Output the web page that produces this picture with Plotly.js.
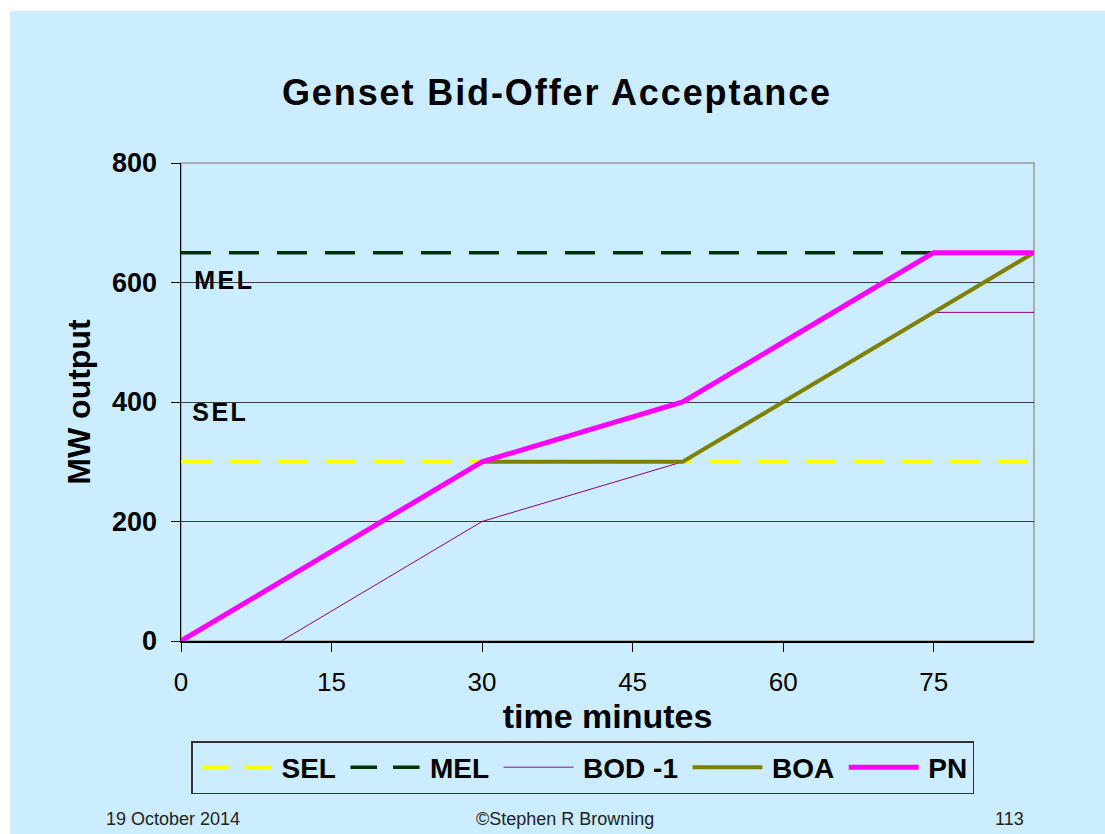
<!DOCTYPE html>
<html>
<head>
<meta charset="utf-8">
<script src="https://cdn.plot.ly/plotly-3.0.1.min.js"></script>
<style>
  html, body { margin: 0; padding: 0; background: #ffffff; }
  #bg { position: absolute; left: 10px; top: 11px; width: 1095px; height: 823px; background: #CCECFF; }
  #chart { position: absolute; left: 0; top: 0; width: 1105px; height: 834px; }
  #chart .gtitle { letter-spacing: 1.9px; }
  #chart .legend .legendlines path { transform-box: fill-box; transform-origin: center; transform: scaleX(0.885); }
  #chart .annotation-text.spaced { letter-spacing: 2.5px; }
</style>
</head>
<body>
<div id="bg"></div>
<div id="chart"></div>
<script>
// ---- data ----
const selX = [0, 85];
const selY = [300, 300];
const melX = [0, 85];
const melY = [650, 650];
const bodX = [10, 20, 30, 40, 50, 60, 70, 75, 85];
const bodY = [0, 100, 200, 250, 300, 400, 500, 550, 550];
const boaX = [30, 40, 50, 60, 70, 75, 85];
const boaY = [300, 300, 300, 400, 500, 550, 650];
const pnX = [0, 10, 20, 30, 40, 50, 60, 70, 75, 85];
const pnY = [0, 100, 200, 300, 350, 400, 500, 600, 650, 650];
const seriesNames = ['SEL', 'MEL', 'BOD -1', 'BOA', 'PN'];
const xTicks = [0, 15, 30, 45, 60, 75];
const yTicks = [0, 200, 400, 600, 800];
const chartTitle = 'Genset Bid-Offer Acceptance';
const xTitle = 'time minutes';
const yTitle = 'MW output';
const footLeft = '19 October 2014';
const footCenter = '\u00A9Stephen R Browning';
const footRight = '113';

// ---- layout helpers ----
const W = 1105, H = 834;
const L = 181, R = 1034, T = 163, B = 641;
const px = v => (v - L) / (R - L);
const py = v => (B - v) / (B - T);
const FONT = '"Liberation Sans", Arial, sans-serif';

const traces = [
  {x: selX, y: selY, name: seriesNames[0], mode: 'lines',
   line: {color: '#FFFF00', width: 3.5, dash: '30px,18px'}},
  {x: melX, y: melY, name: seriesNames[1], mode: 'lines',
   line: {color: '#003300', width: 3.5, dash: '30px,18px'}},
  {x: bodX, y: bodY, name: seriesNames[2], mode: 'lines',
   line: {color: '#880088', width: 1}},
  {x: boaX, y: boaY, name: seriesNames[3], mode: 'lines',
   line: {color: '#808000', width: 4}},
  {x: pnX, y: pnY, name: seriesNames[4], mode: 'lines',
   line: {color: '#FF00FF', width: 5}}
];

const layout = {
  width: W, height: H,
  paper_bgcolor: 'rgba(0,0,0,0)',
  plot_bgcolor: 'rgba(0,0,0,0)',
  margin: {l: L, r: W - R, t: T, b: H - B, pad: 0},
  font: {family: FONT, color: '#000000'},
  title: {
    text: chartTitle,
    font: {family: FONT, size: 36, weight: 'bold', color: '#000000'},
    xref: 'container', yref: 'container',
    x: 557 / W, xanchor: 'center',
    y: 1 - 92 / H, yanchor: 'middle'
  },
  xaxis: {
    range: [0, 85],
    tickvals: xTicks,
    ticktext: xTicks.map(String),
    ticks: 'outside', ticklen: 9, tickwidth: 1, tickcolor: '#000000',
    tickfont: {family: FONT, size: 26, color: '#000000'},
    ticklabelstandoff: 8,
    showline: true, linecolor: '#000000', linewidth: 1.5,
    showgrid: false, zeroline: false,
    title: {text: xTitle, standoff: 6,
            font: {family: FONT, size: 34, weight: 'bold', color: '#000000'}}
  },
  yaxis: {
    range: [0, 800],
    tickvals: yTicks,
    ticktext: yTicks.map(String),
    ticks: 'outside', ticklen: 9, tickwidth: 1, tickcolor: '#000000',
    tickfont: {family: FONT, size: 27, weight: 'bold', color: '#000000'},
    ticklabelstandoff: 8,
    showline: true, linecolor: '#000000', linewidth: 1.5,
    showgrid: true, gridcolor: '#3c3c3c', gridwidth: 1,
    zeroline: false,
    title: {text: yTitle, standoff: 12,
            font: {family: FONT, size: 32, weight: 'bold', color: '#000000'}}
  },
  shapes: [
    {type: 'rect', xref: 'paper', yref: 'paper', x0: 0, x1: 1, y0: 0, y1: 1,
     line: {color: '#9a9a9a', width: 1.5}, layer: 'below'}
  ],
  legend: {
    orientation: 'h',
    x: px(191), y: py(741), xanchor: 'left', yanchor: 'top',
    bgcolor: '#CCECFF', bordercolor: '#333333', borderwidth: 1.5,
    font: {family: FONT, size: 28, weight: 'bold', color: '#000000'},
    itemwidth: 79, tracegroupgap: 0, traceorder: 'normal'
  },
  annotations: [
    {text: 'MEL', xref: 'paper', yref: 'paper', x: px(196), y: py(280),
     xanchor: 'left', yanchor: 'middle', showarrow: false,
     font: {family: FONT, size: 25, weight: 'bold', color: '#000000'}},
    {text: 'SEL', xref: 'paper', yref: 'paper', x: px(194), y: py(412),
     xanchor: 'left', yanchor: 'middle', showarrow: false,
     font: {family: FONT, size: 25, weight: 'bold', color: '#000000'}},
    {text: footLeft, xref: 'paper', yref: 'paper', x: px(104), y: py(819),
     xanchor: 'left', yanchor: 'middle', showarrow: false,
     font: {family: FONT, size: 18, color: '#222222'}},
    {text: footCenter, xref: 'paper', yref: 'paper', x: px(565), y: py(819),
     xanchor: 'center', yanchor: 'middle', showarrow: false,
     font: {family: FONT, size: 18, color: '#222222'}},
    {text: footRight, xref: 'paper', yref: 'paper', x: px(1026), y: py(819),
     xanchor: 'right', yanchor: 'middle', showarrow: false,
     font: {family: FONT, size: 18, color: '#222222'}}
  ]
};

Plotly.newPlot('chart', traces, layout, {staticPlot: true, displayModeBar: false}).then(gd => {
  const anns = gd.querySelectorAll('.annotation-text');
  if (anns[0]) anns[0].classList.add('spaced');
  if (anns[1]) anns[1].classList.add('spaced');
});
</script>
</body>
</html>
